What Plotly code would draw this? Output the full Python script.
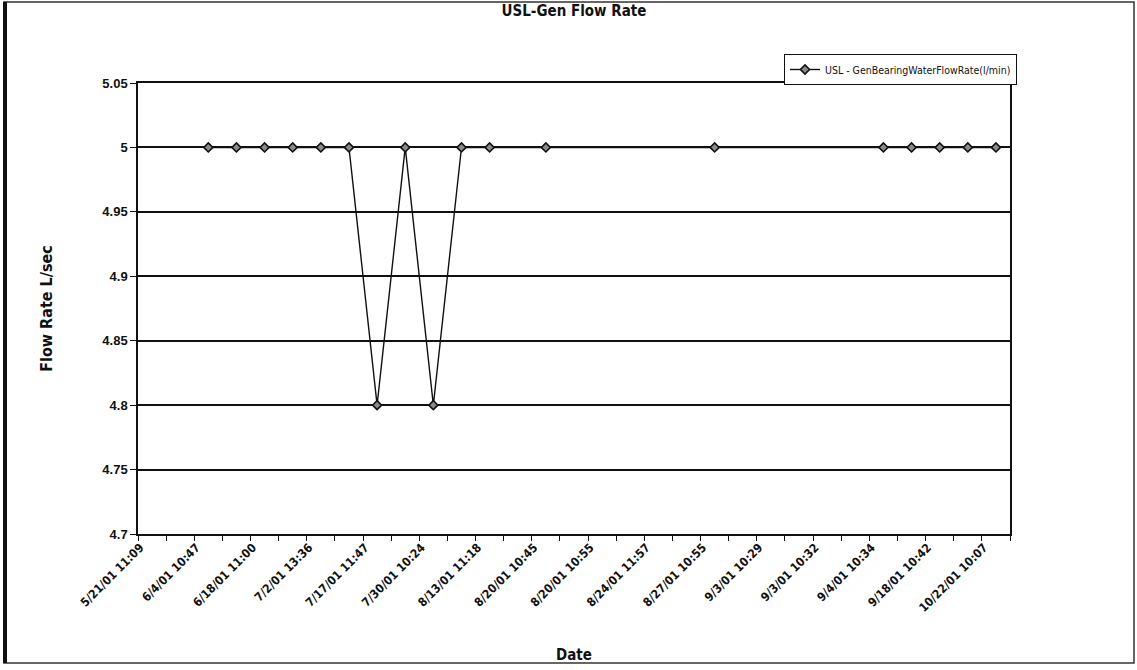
import plotly.graph_objects as go

# Sampling dates shown on the category axis (every second category is labelled)
tick_labels = [
    "5/21/01 11:09", "6/4/01 10:47", "6/18/01 11:00", "7/2/01 13:36",
    "7/17/01 11:47", "7/30/01 10:24", "8/13/01 11:18", "8/20/01 10:45",
    "8/20/01 10:55", "8/24/01 11:57", "8/27/01 10:55", "9/3/01 10:29",
    "9/3/01 10:32", "9/4/01 10:34", "9/18/01 10:42", "10/22/01 10:07",
]
n_categories = 31
category_index = list(range(n_categories))
label_index = list(range(0, n_categories, 2))

# Generator bearing water flow rate per reading (None = no reading)
flow_rate = [
    None, None, 5.0, 5.0, 5.0, 5.0, 5.0, 5.0, 4.8, 5.0, 4.8,
    5.0, 5.0, None, 5.0, None, None, None, None, None, 5.0,
    None, None, None, None, None, 5.0, 5.0, 5.0, 5.0, 5.0,
]

y_ticks = [4.7, 4.75, 4.8, 4.85, 4.9, 4.95, 5.0, 5.05]
y_tick_text = ["4.7", "4.75", "4.8", "4.85", "4.9", "4.95", "5", "5.05"]

series_name = "USL - GenBearingWaterFlowRate(l/min)"

W, H = 1137, 670
ML, MR, MT, MB = 138, 127, 83, 136
PW, PH = W - ML - MR, H - MT - MB

narrow = "DejaVu Sans Condensed, Liberation Sans Narrow, Arial Narrow, Liberation Sans, Arial"
sans = "Liberation Sans, Arial"

fig = go.Figure()
fig.add_trace(go.Scatter(
    x=category_index,
    y=flow_rate,
    mode="lines+markers",
    name=series_name,
    connectgaps=True,
    line=dict(color="#111111", width=1.4),
    marker=dict(symbol="diamond", size=7, color="#8a8a8a",
                line=dict(color="#111111", width=1.6)),
))


def px_x(p):
    return (p - ML) / PW


def px_y(p):
    return 1 - (p - MT) / PH


# outer chart frame
fig.add_shape(type="rect", xref="paper", yref="paper",
              x0=px_x(4), x1=px_x(1134), y0=px_y(663), y1=px_y(2),
              line=dict(color="#333333", width=1.5), layer="below")
fig.add_shape(type="line", xref="paper", yref="paper",
              x0=px_x(5), x1=px_x(5), y0=px_y(663), y1=px_y(2),
              line=dict(color="#111111", width=4))

fig.update_layout(
    width=W, height=H,
    margin=dict(l=ML, r=MR, t=MT, b=MB, autoexpand=False),
    paper_bgcolor="white", plot_bgcolor="white",
    title=dict(text="<b>USL-Gen Flow Rate</b>", x=0.5, xref="paper",
               y=1 - 11 / H, yanchor="middle",
               font=dict(family=narrow, size=15, color="#111111")),
    showlegend=True,
    legend=dict(x=px_x(784), y=px_y(54), xanchor="left", yanchor="top",
                bgcolor="white", bordercolor="#111111", borderwidth=1,
                font=dict(family=narrow, size=10.5, color="#111111"),
                itemwidth=30, tracegroupgap=0),
    xaxis=dict(
        range=[-0.5, n_categories - 0.5],
        automargin=False,
        tickmode="array",
        tickvals=[i - 0.42 for i in label_index],
        ticktext=[f"<b>{t}</b>" for t in tick_labels],
        tickangle=-45,
        ticks="",
        tickfont=dict(family=narrow, size=12, color="#111111"),
        minor=dict(tickmode="linear", tick0=-0.5, dtick=1, ticks="outside",
                   ticklen=5, tickcolor="#111111", tickwidth=1,
                   showgrid=False),
        showgrid=False, zeroline=False,
        showline=True, linecolor="#111111", linewidth=1.5, mirror=True,
        title=dict(text="<b>Date</b>", standoff=36,
                   font=dict(family=narrow, size=15, color="#111111")),
    ),
    yaxis=dict(
        range=[4.7, 5.05],
        automargin=False,
        tickmode="array",
        tickvals=y_ticks,
        ticktext=[f"<b>{t}</b>" for t in y_tick_text],
        ticks="outside", ticklen=6, tickcolor="#111111", tickwidth=1,
        tickfont=dict(family=sans, size=13, color="#111111"),
        showgrid=True, gridcolor="#111111", gridwidth=1.5,
        zeroline=False,
        showline=True, linecolor="#111111", linewidth=1.5, mirror=True,
        title=dict(text="<b>Flow Rate L/sec</b>", standoff=46,
                   font=dict(family=narrow, size=16, color="#111111")),
    ),
)

fig.write_html("out.html")
